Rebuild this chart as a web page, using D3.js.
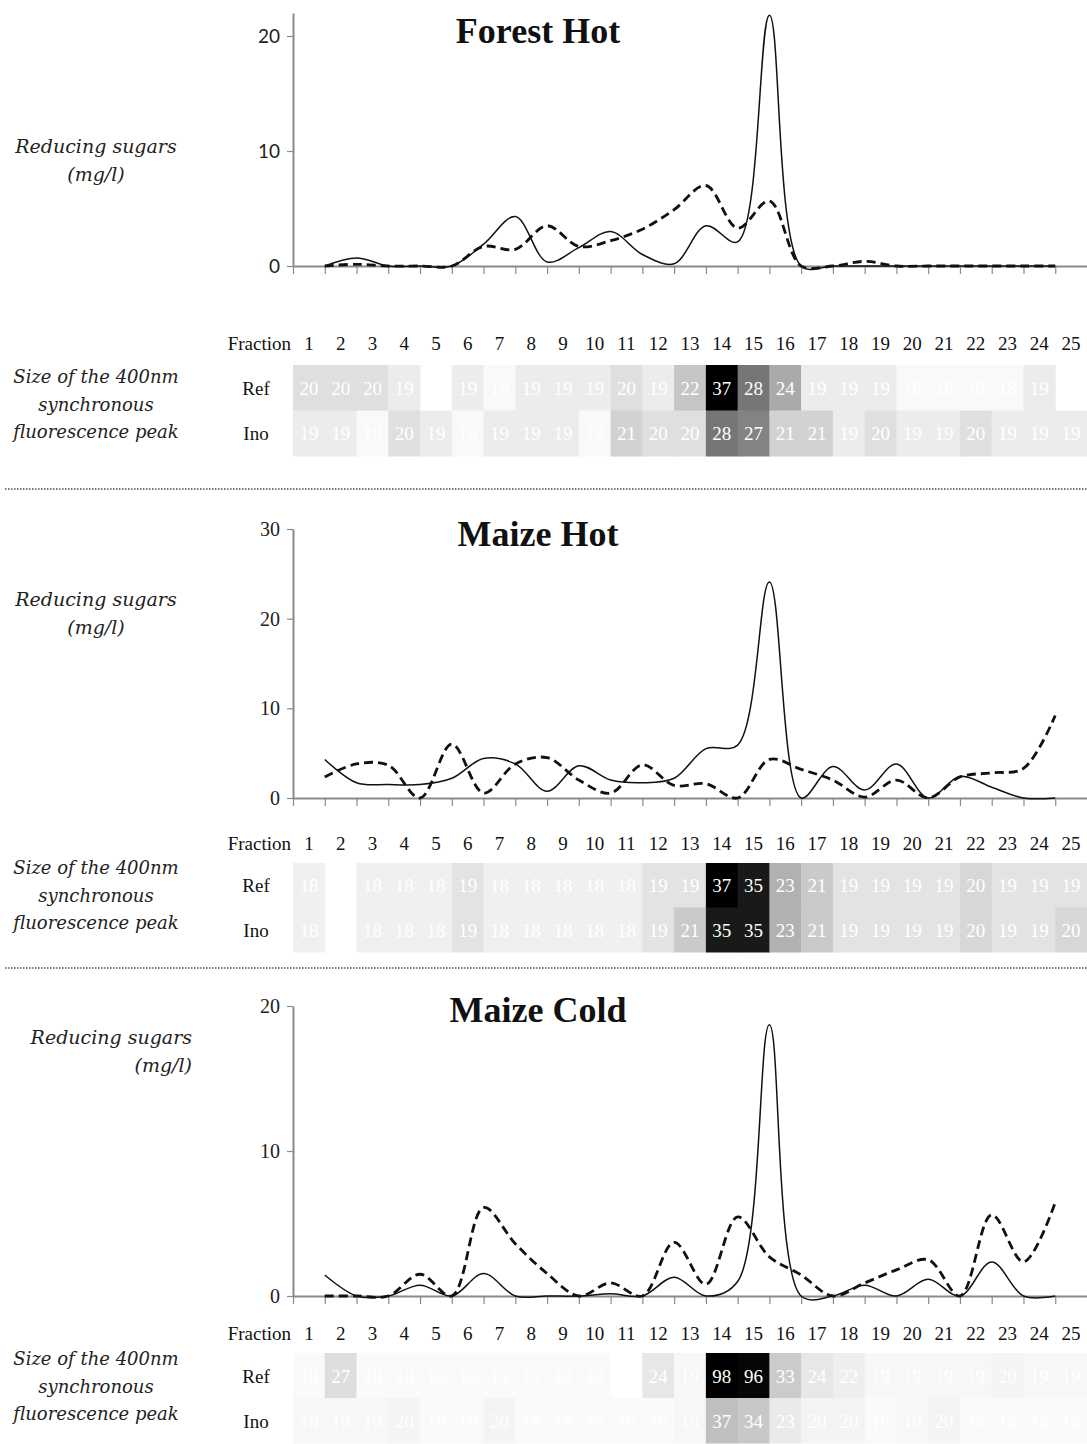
<!DOCTYPE html>
<html>
<head>
<meta charset="utf-8">
<script src="https://cdn.jsdelivr.net/npm/d3@7"></script>
<style>
  body { margin: 0; background: #fff; }
  svg { display: block; }
  .lab { font-family: "DejaVu Serif", serif; font-style: italic; fill: #222; }
  .serif { font-family: "Liberation Serif", "Times New Roman", serif; fill: #111; }
</style>
</head>
<body>
<div class="stage"></div>
<script>
// fractions shown in the heat strip, and the fraction index of each line point
var fractions = d3.range(1, 26)
var linePoints = d3.range(1, 25)

// reducing sugars (mg/l), solid = Ref, dashed = Ino
var forestHotSolid  = [0, 0.7, 0, 0, 0, 1.9, 4.3, 0.35, 1.6, 3.0, 1.0, 0.2, 3.5, 2.1, 21.8, 0, 0, 0, 0, 0, 0, 0, 0, 0]
var forestHotDashed = [0, 0.15, 0, 0, 0, 1.7, 1.45, 3.5, 1.7, 2.2, 3.2, 4.9, 7.0, 3.3, 5.65, 0, 0, 0.4, 0, 0, 0, 0, 0, 0]
var maizeHotSolid   = [4.3, 1.7, 1.5, 1.5, 2.2, 4.4, 3.8, 0.75, 3.6, 2.0, 1.7, 2.2, 5.5, 5.9, 24.1, 0, 3.5, 0.9, 3.8, 0, 2.4, 1.2, 0, 0]
var maizeHotDashed  = [2.35, 3.8, 3.65, 0, 6.0, 0.55, 3.8, 4.5, 2.0, 0.55, 3.7, 1.4, 1.6, 0, 4.3, 3.2, 2.0, 0.1, 2.0, 0, 2.35, 2.8, 3.3, 9.2]
var maizeColdSolid  = [1.45, 0, 0, 0.75, 0, 1.55, 0, 0, 0, 0.15, 0, 1.3, 0, 1.0, 18.7, 0, 0, 0.75, 0, 1.15, 0, 2.35, 0, 0]
var maizeColdDashed = [0, 0, 0, 1.5, 0, 6.1, 3.6, 1.55, 0, 0.9, 0, 3.7, 0.8, 5.45, 2.7, 1.45, 0, 0.9, 1.8, 2.5, 0, 5.6, 2.35, 6.45]

// size of the 400nm synchronous fluorescence peak, per fraction
var forestHotRef = [20, 20, 20, 19, null, 19, 18, 19, 19, 19, 20, 19, 22, 37, 28, 24, 19, 19, 19, 18, 18, 18, 18, 19, null]
var forestHotIno = [19, 19, 18, 20, 19, 18, 19, 19, 19, 18, 21, 20, 20, 28, 27, 21, 21, 19, 20, 19, 19, 20, 19, 19, 19]
var maizeHotRef  = [18, null, 18, 18, 18, 19, 18, 18, 18, 18, 18, 19, 19, 37, 35, 23, 21, 19, 19, 19, 19, 20, 19, 19, 19]
var maizeHotIno  = [18, null, 18, 18, 18, 19, 18, 18, 18, 18, 18, 19, 21, 35, 35, 23, 21, 19, 19, 19, 19, 20, 19, 19, 20]
var maizeColdRef = [18, 27, 18, 18, 18, 18, 18, 18, 18, 18, null, 24, 19, 98, 96, 33, 24, 22, 19, 19, 19, 19, 20, 19, 19]
var maizeColdIno = [19, 19, 19, 20, 18, 18, 20, 18, 18, 18, 18, 18, 19, 37, 34, 23, 20, 20, 18, 19, 20, 18, 18, 18, 18]

var yTicksForest = [0, 10, 20]
var yTicksMaizeHot = [0, 10, 20, 30]
var yTicksMaizeCold = [0, 10, 20]

var W = 1087, H = 1444

var panels = [
  {title: "Forest Hot", solid: forestHotSolid, dashed: forestHotDashed, ref: forestHotRef, ino: forestHotIno,
   yMax: 22, yTicks: yTicksForest, y0: 266, yTop: 13, tickFont: "Lato, 'Open Sans', sans-serif", tickSize: 19,
   titleY: 43, labX: 96, labAnchor: "middle", labY: 153, fracY: 350, rowTop: 365, rowH: 45.5, sizeY: 383,
   light: "#f9f9f9"},
  {title: "Maize Hot", solid: maizeHotSolid, dashed: maizeHotDashed, ref: maizeHotRef, ino: maizeHotIno,
   yMax: 30, yTicks: yTicksMaizeHot, y0: 798, yTop: 529, tickFont: "'Liberation Serif', serif", tickSize: 20,
   titleY: 546, labX: 96, labAnchor: "middle", labY: 606, fracY: 850, rowTop: 863, rowH: 44.5, sizeY: 874,
   light: "#f0f0f0"},
  {title: "Maize Cold", solid: maizeColdSolid, dashed: maizeColdDashed, ref: maizeColdRef, ino: maizeColdIno,
   yMax: 20, yTicks: yTicksMaizeCold, y0: 1296, yTop: 1006, tickFont: "'Liberation Serif', serif", tickSize: 20,
   titleY: 1022, labX: 192, labAnchor: "end", labY: 1044, fracY: 1340, rowTop: 1353, rowH: 45, sizeY: 1365,
   light: "#fafafa"}
]

var svg = d3.select(".stage").append("svg")
  .attr("width", W)
  .attr("height", H)

var x = d3.scaleLinear().domain([0, 25]).range([293, 1087])

// dotted separators
;[489, 968].forEach(function(yy){
  svg.append("line")
    .attr("x1", 5).attr("x2", W)
    .attr("y1", yy).attr("y2", yy)
    .attr("stroke", "#777")
    .attr("stroke-width", 2)
    .attr("stroke-dasharray", "1.5,1.5")
})

panels.forEach(drawPanel)

function drawPanel(p){
  var g = svg.append("g")
  var y = d3.scaleLinear().domain([0, p.yMax]).range([p.y0, p.yTop])

  // x axis
  var xa = g.append("g")
    .attr("transform", "translate(0," + p.y0 + ")")
    .call(d3.axisBottom(x).tickValues(d3.range(0, 25)).tickSize(8).tickSizeOuter(0).tickFormat(""))
  xa.select(".domain").attr("stroke", "#8a8a8a").attr("stroke-width", 2)
  xa.selectAll(".tick line").attr("stroke", "#8a8a8a").attr("stroke-width", 1.2)

  // y axis
  var ya = g.append("g")
    .attr("transform", "translate(" + x(0) + ",0)")
    .call(d3.axisLeft(y).tickValues(p.yTicks).tickSize(6).tickSizeOuter(0).tickPadding(7))
  ya.select(".domain").attr("stroke", "#8a8a8a").attr("stroke-width", 2)
  ya.selectAll(".tick line").attr("stroke", "#8a8a8a").attr("stroke-width", 1.2)
  ya.selectAll(".tick text")
    .style("font-family", p.tickFont)
    .style("font-size", p.tickSize + "px")
    .attr("fill", "#222")

  var line = d3.line()
    .x(function(d){ return x(d.f) })
    .y(function(d){ return y(d.v) })
    .curve(d3.curveCatmullRom.alpha(0.5))

  function pts(arr){
    return linePoints.map(function(f, i){ return {f: f, v: arr[i]} })
  }

  g.append("path")
    .attr("d", line(pts(p.dashed)))
    .attr("fill", "none")
    .attr("stroke", "#111")
    .attr("stroke-width", 2.8)
    .attr("stroke-dasharray", "9,5")

  g.append("path")
    .attr("d", line(pts(p.solid)))
    .attr("fill", "none")
    .attr("stroke", "#111")
    .attr("stroke-width", 1.5)

  // title
  g.append("text")
    .attr("class", "serif")
    .attr("x", 538).attr("y", p.titleY)
    .attr("text-anchor", "middle")
    .style("font-size", "36px")
    .style("font-weight", "bold")
    .text(p.title)

  // left labels
  var lab = g.append("text")
    .attr("class", "lab")
    .attr("text-anchor", p.labAnchor)
    .style("font-size", "19px")
  lab.append("tspan").attr("x", p.labX).attr("y", p.labY).text("Reducing sugars")
  lab.append("tspan").attr("x", p.labX).attr("dy", 28).text("(mg/l)")

  var sz = g.append("text")
    .attr("class", "lab")
    .attr("text-anchor", "middle")
    .style("font-size", "18px")
  ;["Size of the 400nm", "synchronous", "fluorescence peak"].forEach(function(t, i){
    sz.append("tspan").attr("x", 96).attr("y", p.sizeY + i * 27.5).text(t)
  })

  // heat strip
  g.append("text")
    .attr("class", "serif")
    .attr("x", 291).attr("y", p.fracY)
    .attr("text-anchor", "end")
    .style("font-size", "19px")
    .text("Fraction")

  g.selectAll(".frac")
    .data(fractions)
    .enter().append("text")
    .attr("class", "serif")
    .attr("x", function(d){ return x(d - 0.5) })
    .attr("y", p.fracY)
    .attr("text-anchor", "middle")
    .style("font-size", "19px")
    .text(function(d){ return d })

  var all = p.ref.concat(p.ino).filter(function(v){ return v != null })
  var shade = d3.scaleLinear().domain(d3.extent(all)).range([p.light, "#000000"])

  var rows = [{name: "Ref", values: p.ref}, {name: "Ino", values: p.ino}]
  rows.forEach(function(r, ri){
    var top = p.rowTop + ri * p.rowH
    g.append("text")
      .attr("class", "serif")
      .attr("x", 256).attr("y", top + p.rowH / 2 + 7)
      .attr("text-anchor", "middle")
      .style("font-size", "19px")
      .text(r.name)

    var cells = fractions.map(function(f, i){ return {f: f, v: r.values[i]} })
      .filter(function(d){ return d.v != null })

    g.selectAll(".cell" + ri)
      .data(cells)
      .enter().append("rect")
      .attr("x", function(d){ return x(d.f - 1) })
      .attr("y", top)
      .attr("width", x(1) - x(0) + 0.5)
      .attr("height", p.rowH + 0.5)
      .attr("fill", function(d){ return shade(d.v) })

    g.selectAll(".val" + ri)
      .data(cells)
      .enter().append("text")
      .attr("x", function(d){ return x(d.f - 0.5) })
      .attr("y", top + p.rowH / 2 + 7)
      .attr("text-anchor", "middle")
      .style("font-family", "'Liberation Serif', serif")
      .style("font-size", "19px")
      .attr("fill", "#fff")
      .text(function(d){ return d.v })
  })
}
</script>
</body>
</html>
